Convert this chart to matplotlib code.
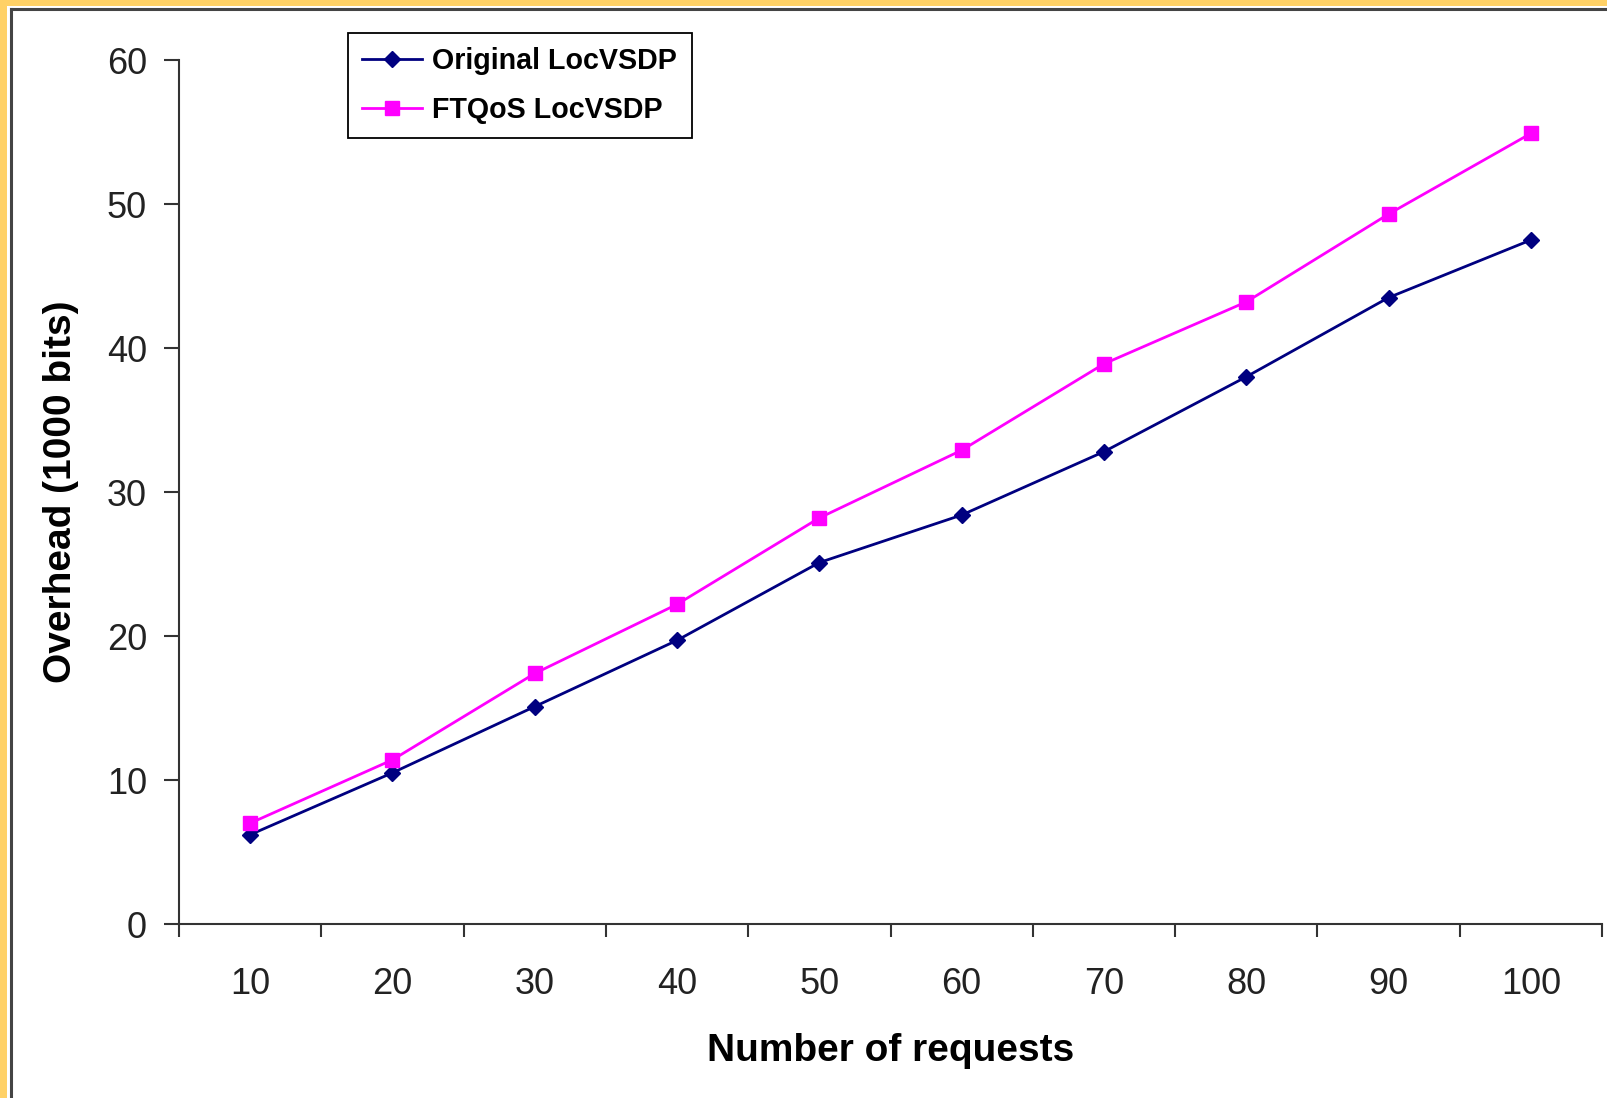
import matplotlib
matplotlib.use("Agg")
from matplotlib import pyplot as plt
from matplotlib.patches import Rectangle
from matplotlib.lines import Line2D

requests = [10, 20, 30, 40, 50, 60, 70, 80, 90, 100]
original = [6.2, 10.5, 15.1, 19.7, 25.1, 28.4, 32.8, 38.0, 43.5, 47.5]
ftqos = [7.0, 11.4, 17.4, 22.2, 28.2, 32.9, 38.9, 43.2, 49.3, 54.9]
yticks = [0, 10, 20, 30, 40, 50, 60]

W, H = 1607, 1098
plt.rcParams["font.family"] = ["Liberation Sans", "DejaVu Sans"]

fig = plt.figure(figsize=(W / 100, H / 100), dpi=100)
ax = fig.add_axes([179 / W, 1 - 924 / H, (1602 - 179) / W, (924 - 60) / H])

pos = list(range(len(requests)))
ax.plot(pos, original, color="#000080", lw=2, marker="D", ms=8.5,
        label="Original LocVSDP")
ax.plot(pos, ftqos, color="#FF00FF", lw=2, marker="s", ms=10,
        label="FTQoS LocVSDP")

ax.set_xlim(-0.5, len(requests) - 0.5)
ax.set_ylim(0, 60)

# tick marks on the category boundaries, labels in the middle
ax.set_xticks([p - 0.5 for p in range(len(requests) + 1)])
ax.set_xticklabels([])
ax.set_xticks(pos, minor=True)
ax.set_xticklabels([str(r) for r in requests], minor=True)
ax.tick_params(axis="x", which="major", length=9.5, width=1.5, color="#333333")
ax.tick_params(axis="x", which="minor", length=0, pad=31, labelsize=26,
               labelcolor="#222222")
ax.set_yticks(yticks)
ax.tick_params(axis="y", length=11, width=1.5, color="#333333", pad=12,
               labelsize=26, labelcolor="#222222")

for side in ["top", "right"]:
    ax.spines[side].set_visible(False)
for side in ["left", "bottom"]:
    ax.spines[side].set_linewidth(1.5)
    ax.spines[side].set_color("#333333")

ax.set_xlabel("Number of requests", fontsize=28, fontweight="bold", va="center")
ax.xaxis.set_label_coords(0.5, -0.147)
ax.set_ylabel("Overhead (1000 bits)", fontsize=28, fontweight="bold", va="center")
ax.yaxis.set_label_coords(-0.083, 0.5)

leg = ax.legend(loc="upper left", bbox_to_anchor=(348 / W, 1 - 33 / H),
                bbox_transform=fig.transFigure, borderaxespad=0,
                fancybox=False, framealpha=1, edgecolor="black",
                prop={"size": 20.6, "weight": "bold"}, handlelength=2.1,
                handletextpad=0.35, borderpad=0.5, labelspacing=0.72)
leg.get_frame().set_linewidth(1.3)

# orange frame on the left and top, with a dark inner line
fig.add_artist(Rectangle((0, 0), 7 / W, 1, transform=fig.transFigure,
                         color="#FFD166", lw=0))
fig.add_artist(Rectangle((0, 1 - 6 / H), 1, 6 / H, transform=fig.transFigure,
                         color="#FFD166", lw=0))
fig.add_artist(Line2D([10.5 / W, 10.5 / W], [0, 1 - 9 / H],
                      transform=fig.transFigure, color="#444444", lw=2.2))
fig.add_artist(Line2D([10.5 / W, 1], [1 - 9 / H, 1 - 9 / H],
                      transform=fig.transFigure, color="#444444", lw=2.2))

fig.savefig("out.png", dpi=100)
